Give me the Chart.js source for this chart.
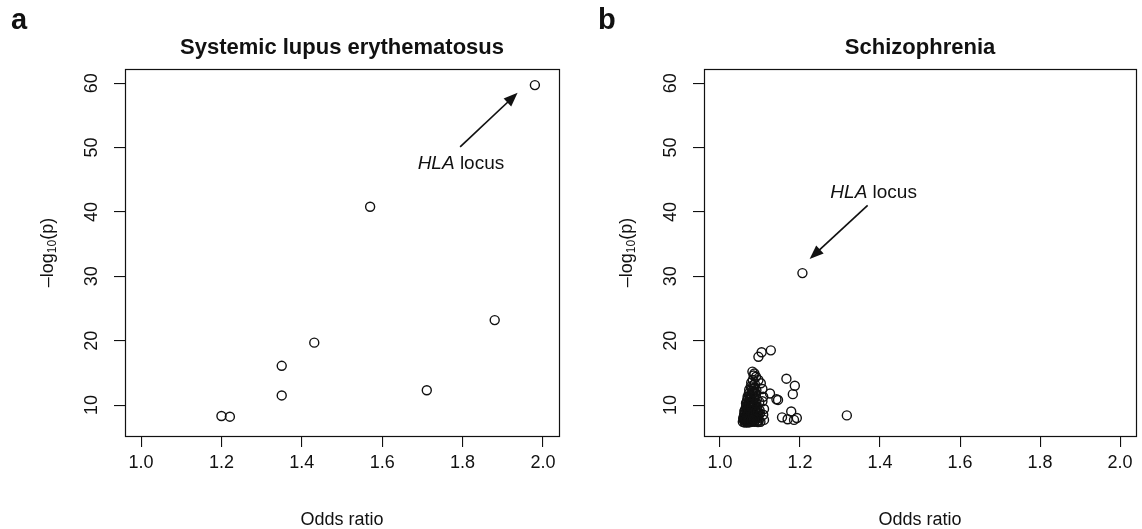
<!DOCTYPE html>
<html lang="en">
<head>
<meta charset="utf-8">
<title>Odds ratio vs -log10(p)</title>
<style>
  html, body { margin: 0; padding: 0; background: #fff; overflow: hidden; }
  .panel { position: absolute; top: 0; }
  #panelA { left: 0; }
  #panelB { left: 579px; }
</style>
</head>
<body>
<canvas id="panelA" class="panel" width="579" height="529"></canvas>
<canvas id="panelB" class="panel" width="563" height="529"></canvas>

<script src="https://cdn.jsdelivr.net/npm/chart.js/dist/chart.umd.min.js"></script>
<script>
// axis ticks
const xTicks = [1.0, 1.2, 1.4, 1.6, 1.8, 2.0];
const yTicks = [10, 20, 30, 40, 50, 60];

// a: systemic lupus erythematosus
const sleOdds = [1.980, 1.570, 1.880, 1.431, 1.350, 1.350, 1.711, 1.200, 1.221];
const sleLogP = [59.7, 40.8, 23.2, 19.7, 16.1, 11.5, 12.3, 8.3, 8.2];

// b: schizophrenia (outliers first, then the dense cluster)
const sczOdds = [
  1.206, 1.127, 1.104, 1.096, 1.166, 1.187, 1.182, 1.125, 1.145, 1.141, 1.155, 1.178, 1.169, 1.185, 1.192, 1.317,
  1.086, 1.096, 1.102, 1.106, 1.108, 1.106, 1.110, 1.108, 1.110, 1.081, 1.090,
  1.057, 1.060, 1.062, 1.064, 1.066, 1.068, 1.070, 1.072, 1.074, 1.076, 1.078, 1.080, 1.083, 1.086, 1.089, 1.093, 1.097, 1.101,
  1.059, 1.061, 1.064, 1.067, 1.069, 1.072, 1.075, 1.078, 1.081, 1.085, 1.088, 1.092, 1.096, 1.100,
  1.062, 1.065, 1.068, 1.071, 1.074, 1.077, 1.081, 1.084, 1.088, 1.093, 1.099,
  1.065, 1.068, 1.071, 1.075, 1.078, 1.082, 1.087, 1.092, 1.098,
  1.069, 1.072, 1.076, 1.080, 1.085, 1.090,
  1.073, 1.077, 1.081, 1.086, 1.091,
  1.078, 1.082, 1.087, 1.084, 1.083,
  1.058, 1.060, 1.063, 1.065, 1.067, 1.069, 1.071, 1.073, 1.075, 1.077, 1.079, 1.082, 1.084, 1.087, 1.090, 1.094,
  1.061, 1.063, 1.066, 1.069, 1.072, 1.073, 1.076, 1.079, 1.080, 1.083, 1.086, 1.089, 1.091, 1.095,
  1.067, 1.070, 1.074, 1.078, 1.083, 1.079, 1.084, 1.088,
  1.063, 1.071, 1.079, 1.085, 1.091, 1.095
];
const sczLogP = [
  30.5, 18.5, 18.2, 17.5, 14.1, 13.0, 11.7, 11.8, 10.8, 10.9, 8.1, 9.0, 7.8, 7.7, 8.0, 8.4,
  14.9, 13.9, 13.4, 12.5, 11.3, 10.6, 9.4, 8.5, 7.7, 15.2, 14.4,
  7.4, 7.6, 7.3, 7.8, 7.4, 7.6, 7.3, 7.7, 7.5, 7.35, 7.8, 7.45, 7.6, 7.4, 7.7, 7.5, 7.6, 7.4,
  8.1, 8.6, 8.3, 8.9, 8.2, 8.5, 8.1, 8.8, 8.3, 8.6, 8.2, 8.9, 8.4, 8.7,
  9.2, 9.7, 9.4, 9.9, 9.3, 9.6, 9.1, 9.8, 9.4, 9.7, 9.2,
  10.3, 10.8, 10.4, 10.9, 10.2, 10.6, 10.3, 10.9, 10.5,
  11.3, 11.8, 11.2, 11.6, 11.1, 11.7,
  12.4, 12.9, 12.2, 12.7, 12.3,
  13.5, 13.9, 13.3, 14.6, 13.1,
  7.9, 8.4, 8.0, 7.5, 8.2, 7.9, 8.7, 8.0, 7.9, 8.4, 8.0, 7.9, 8.2, 8.0, 8.4, 8.1,
  9.0, 8.8, 9.5, 9.1, 9.3, 10.1, 9.1, 9.8, 10.5, 9.3, 10.0, 9.0, 10.2, 9.0,
  10.5, 11.0, 11.5, 11.0, 11.9, 12.5, 12.0, 12.0,
  7.6, 7.5, 7.6, 7.8, 7.9, 7.35
];

const ink = '#111';
const FONT = '"Liberation Sans", Arial, Helvetica, sans-serif';

// titles, tick labels, box and the HLA arrow
const panelDecor = {
  id: 'panelDecor',
  afterDraw(chart, args, opts) {
    const {ctx, chartArea: a, scales: {x, y}} = chart;
    const cx = (a.left + a.right) / 2;
    const cy = (a.top + a.bottom) / 2;
    ctx.save();
    ctx.fillStyle = ink;
    ctx.strokeStyle = ink;

    // box
    ctx.lineWidth = 1.2;
    ctx.strokeRect(Math.round(a.left) + 0.5, Math.round(a.top) + 0.5,
      Math.round(a.right - a.left), Math.round(a.bottom - a.top));

    // panel letter + title
    ctx.textAlign = 'left';
    ctx.textBaseline = 'alphabetic';
    ctx.font = 'bold 29px ' + FONT;
    ctx.fillText(opts.letter, opts.letterX, 29);
    ctx.textAlign = 'center';
    ctx.font = 'bold 22px ' + FONT;
    ctx.fillText(opts.title, cx, 54);

    // x tick labels
    ctx.font = '18px ' + FONT;
    ctx.textBaseline = 'middle';
    xTicks.forEach(v => ctx.fillText(v.toFixed(1), x.getPixelForValue(v), 463));

    // y tick labels, rotated like R's las=0
    yTicks.forEach(v => {
      ctx.save();
      ctx.translate(a.left - 33, y.getPixelForValue(v));
      ctx.rotate(-Math.PI / 2);
      ctx.fillText(String(v), 0, 0);
      ctx.restore();
    });

    // axis titles
    ctx.fillText('Odds ratio', cx, 520);
    ctx.save();
    ctx.translate(a.left - 77, cy);
    ctx.rotate(-Math.PI / 2);
    const big = '18px ' + FONT, small = '12px ' + FONT;
    ctx.font = big;
    const w1 = ctx.measureText('\u2013log').width;
    const w3 = ctx.measureText('(p)').width;
    ctx.font = small;
    const w2 = ctx.measureText('10').width;
    let px = -(w1 + w2 + w3) / 2;
    ctx.textAlign = 'left';
    ctx.font = big;
    ctx.fillText('\u2013log', px, 0);
    px += w1;
    ctx.font = small;
    ctx.fillText('10', px, 5);
    px += w2;
    ctx.font = big;
    ctx.fillText('(p)', px, 0);
    ctx.restore();

    // HLA locus annotation
    const ar = opts.arrow;
    const fx = x.getPixelForValue(ar.from[0]), fy = y.getPixelForValue(ar.from[1]);
    const tx = x.getPixelForValue(ar.to[0]), ty = y.getPixelForValue(ar.to[1]);
    const ang = Math.atan2(ty - fy, tx - fx);
    const head = 14, half = 5.5;
    ctx.lineWidth = 1.7;
    ctx.beginPath();
    ctx.moveTo(fx, fy);
    ctx.lineTo(tx - head * 0.8 * Math.cos(ang), ty - head * 0.8 * Math.sin(ang));
    ctx.stroke();
    ctx.beginPath();
    ctx.moveTo(tx, ty);
    ctx.lineTo(tx - head * Math.cos(ang) + half * Math.sin(ang), ty - head * Math.sin(ang) - half * Math.cos(ang));
    ctx.lineTo(tx - head * Math.cos(ang) - half * Math.sin(ang), ty - head * Math.sin(ang) + half * Math.cos(ang));
    ctx.closePath();
    ctx.fill();

    const lx = x.getPixelForValue(ar.label[0]), ly = y.getPixelForValue(ar.label[1]);
    ctx.textBaseline = 'alphabetic';
    ctx.textAlign = 'left';
    ctx.font = 'italic 19px ' + FONT;
    const wi = ctx.measureText('HLA').width;
    ctx.font = '19px ' + FONT;
    const wr = ctx.measureText(' locus').width;
    const sx = lx - (wi + wr) / 2;
    ctx.font = 'italic 19px ' + FONT;
    ctx.fillText('HLA', sx, ly);
    ctx.font = '19px ' + FONT;
    ctx.fillText(' locus', sx + wi, ly);

    ctx.restore();
  }
};

function makePanel(id, letter, letterX, title, odds, logp, arrow, rightPad) {
  return new Chart(document.getElementById(id), {
    type: 'scatter',
    data: {
      datasets: [{
        data: odds.map((v, i) => ({x: v, y: logp[i]})),
        pointStyle: 'circle',
        pointRadius: 4.5,
        pointHoverRadius: 4.5,
        borderWidth: 1.4,
        borderColor: ink,
        backgroundColor: 'rgba(0,0,0,0)'
      }]
    },
    options: {
      responsive: false,
      animation: false,
      layout: { padding: { top: 69, right: rightPad, bottom: 0, left: 0 } },
      scales: {
        x: {
          type: 'linear',
          min: 0.96, max: 2.04,
          afterBuildTicks: s => { s.ticks = xTicks.map(v => ({value: v})); },
          afterFit: s => { s.height = 93; },
          ticks: { display: false },
          grid: { drawOnChartArea: false, drawTicks: true, tickLength: 11, color: ink, lineWidth: 1.1 },
          border: { display: false }
        },
        y: {
          type: 'linear',
          min: 5.2, max: 62.2,
          afterBuildTicks: s => { s.ticks = yTicks.map(v => ({value: v})); },
          afterFit: s => { s.width = 125; },
          ticks: { display: false },
          grid: { drawOnChartArea: false, drawTicks: true, tickLength: 11, color: ink, lineWidth: 1.1 },
          border: { display: false }
        }
      },
      plugins: {
        legend: { display: false },
        tooltip: { enabled: false },
        panelDecor: { letter, letterX, title, arrow }
      }
    },
    plugins: [panelDecor]
  });
}

makePanel('panelA', 'a', 11, 'Systemic lupus erythematosus', sleOdds, sleLogP,
  { from: [1.794, 50.1], to: [1.937, 58.5], label: [1.796, 46.7] }, 20);
makePanel('panelB', 'b', 19, 'Schizophrenia', sczOdds, sczLogP,
  { from: [1.369, 41.0], to: [1.224, 32.7], label: [1.384, 42.2] }, 3);
</script>
</body>
</html>
